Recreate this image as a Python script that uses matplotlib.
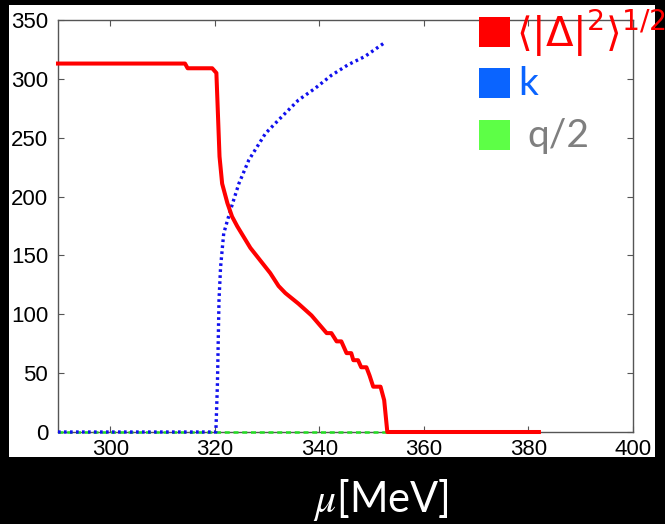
import numpy as np
import matplotlib
matplotlib.use("Agg")
import matplotlib.pyplot as plt
from matplotlib.patches import Rectangle

# gap curve <|Delta|^2>^(1/2)
mu_gap = [290, 314.3, 314.8, 319.5, 320.3, 320.9, 321.4, 322.4, 323.3, 324.3, 326.8,
          330.6, 332.2, 333.5, 336, 338.5, 341.4, 342.3, 343.3, 344.2, 345.2, 346.1,
          346.5, 347.4, 348, 349, 349.6, 350.3, 351.7, 352.4, 353, 382]
gap = [313, 313, 309, 309, 305, 234, 211, 194.5, 183, 174.7, 156.4,
       135, 124, 118, 109, 99, 84, 84, 77, 77, 67, 67,
       61, 61, 55, 55, 48, 38.5, 38.5, 27, 0, 0]

# k
mu_k = [290, 320.2, 320.5, 320.8, 321.1, 321.7, 323, 324.6, 326.5, 329.7, 332.8,
        336, 339.2, 342.3, 345.5, 348.7, 352.5]
k = [0, 0, 41, 112, 140, 168.7, 188.6, 211, 231, 253.7, 267.8,
     282, 292, 303, 312, 319, 330.8]

# q/2
mu_q = [290, 353]
q_half = [0, 0]

xticks = [300, 320, 340, 360, 380, 400]
yticks = [0, 50, 100, 150, 200, 250, 300, 350]

W, H = 665, 524
fig = plt.figure(figsize=(W / 100, H / 100), dpi=100, facecolor="black")

# white panel behind the plot
fig.add_artist(Rectangle((9 / W, 1 - 457 / H), (655 - 9) / W, (457 - 5) / H,
                         transform=fig.transFigure, facecolor="white", edgecolor="none", zorder=0))

ax = fig.add_axes([58 / W, 1 - 432 / H, (633 - 58) / W, (432 - 20) / H])
ax.set_facecolor("white")

ax.plot(mu_q, q_half, color="#22dd22", lw=1.8, ls=(0, (2, 1.5)), zorder=3, clip_on=False)
ax.plot(mu_k, k, color="#1010ee", lw=2.4, ls=(0, (0.8, 1.0)), zorder=4, clip_on=False)
ax.plot(mu_gap, gap, color="#ff0000", lw=2.9, zorder=5, clip_on=False)

ax.set_xlim(290, 400)
ax.set_ylim(0, 350)
ax.set_xticks(xticks)
ax.set_yticks(yticks)
ax.tick_params(direction="in", length=4, width=0.8, color="#555555",
               top=True, right=True, labelsize=16, pad=5)
ax.tick_params(axis="y", pad=7)
for lab in ax.get_xticklabels() + ax.get_yticklabels():
    lab.set_family("Liberation Sans")
for s in ax.spines.values():
    s.set_color("#555555")
    s.set_linewidth(1)
    s.set_zorder(2)

# legend drawn by hand, like the slide
legend = [("#ff0000", r"$\langle|\Delta|^{2}\rangle^{1/2}$", "#ff0000", 17, 516, 29),
          ("#0a64ff", "k", "#0a64ff", 68, 518, 28),
          ("#5dff46", "q/2", "#7f7f7f", 120, 527, 28)]
for face, label, tcol, ytop, xt, fs in legend:
    fig.add_artist(Rectangle((479 / W, 1 - (ytop + 30) / H), 31 / W, 30 / H,
                             transform=fig.transFigure, facecolor=face, edgecolor="none", zorder=5))
    fig.text(xt / W, 1 - (ytop + 16) / H, label, color=tcol, fontsize=fs,
             family="Lato", math_fontfamily="dejavusans", va="center", ha="left", zorder=6)

fig.text(381 / W, 1 - 500 / H, r"$\mu$[MeV]", color="white", fontsize=30,
         family="Lato", math_fontfamily="stix", ha="center", va="center")

fig.savefig("out.png", dpi=100, facecolor="black")
